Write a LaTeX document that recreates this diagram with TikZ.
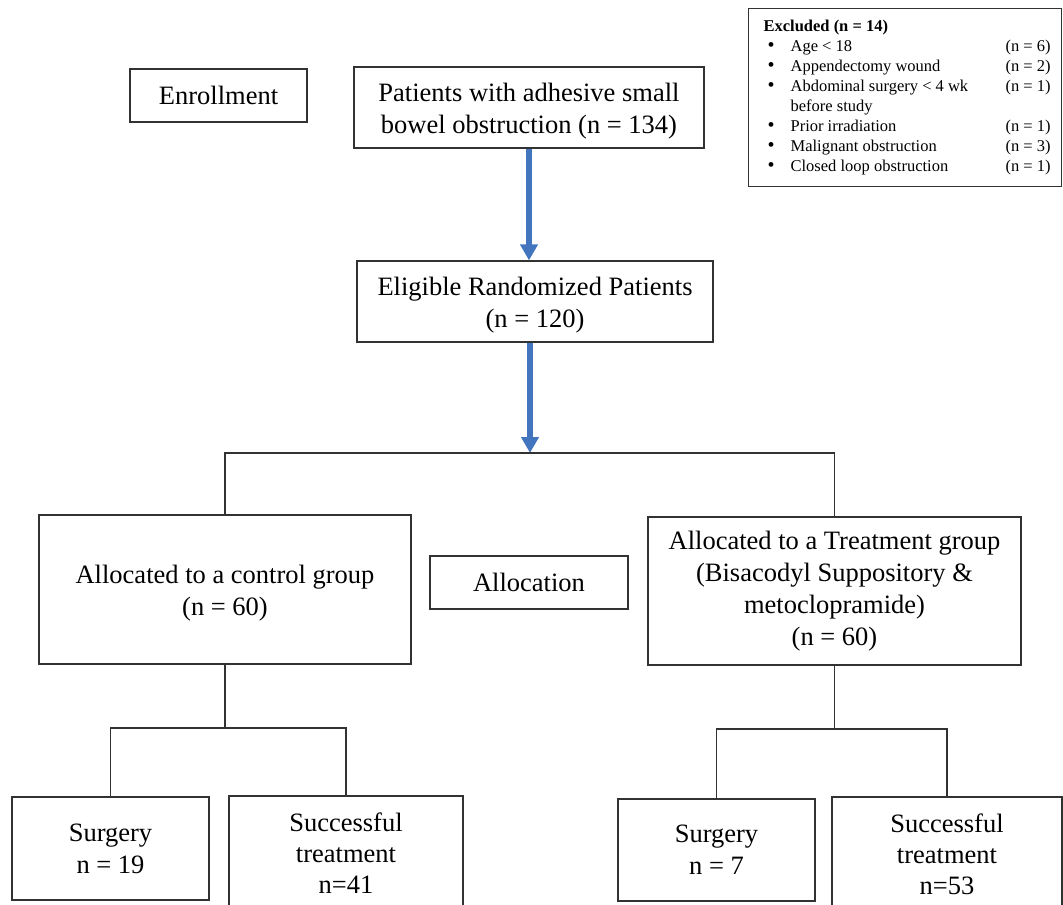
\documentclass[tikz,border=0pt]{standalone}
\usepackage{fontspec}
\setmainfont{Liberation Serif}
\usetikzlibrary{arrows.meta,positioning}
\definecolor{flowblue}{RGB}{66,117,190}
\definecolor{linegray}{RGB}{50,50,50}
\newcommand{\exbullet}{\hspace*{8pt}{\fontsize{20}{20}\selectfont\textbullet}}
\tikzset{
  box/.style={draw=linegray, line width=1.2pt, inner sep=0pt, align=center,
    font=\fontsize{26.5}{32}\selectfont},
  twoline/.style={text height=58pt},
  link/.style={draw=linegray, line width=1.2pt},
  bluearrow/.style={draw=flowblue, line width=5.5pt,
    -{Triangle[width=17pt,length=16pt,fill=flowblue]}}
}

\begin{document}
\begin{tikzpicture}[x=1pt, y=-1pt]
\useasboundingbox (0,0) rectangle (1063,905);

% top row
\node[box, minimum width=177, minimum height=53] (enroll) at (218.5,95.5) {Enrollment};
\node[box, twoline, minimum width=350, minimum height=81] (pat) at (529,107.5)
  {Patients with adhesive small\\bowel obstruction (n = 134)};
\node[draw=linegray, line width=1.2pt, anchor=north west, inner xsep=11pt, inner ysep=9pt,
  font=\fontsize{16.5}{20}\selectfont] (excl) at (748,8)
  {\begin{tabular}{@{}p{31pt}@{}p{215pt}@{}r@{}}
   \multicolumn{3}{@{\hspace*{4pt}}l@{}}{\textbf{Excluded (n = 14)}}\\
   \exbullet & Age < 18 & (n = 6)\\
   \exbullet & Appendectomy wound & (n = 2)\\
   \exbullet & Abdominal surgery < 4 wk & (n = 1)\\
   & before study & \\
   \exbullet & Prior irradiation & (n = 1)\\
   \exbullet & Malignant obstruction & (n = 3)\\
   \exbullet & Closed loop obstruction & (n = 1)
   \end{tabular}};

\node[box, twoline, minimum width=356, minimum height=81] (elig) at (535,301.5)
  {Eligible Randomized Patients\\(n = 120)};

% allocation row
\node[box, twoline, minimum width=372, minimum height=149] (ctrl) at (225,589.5)
  {Allocated to a control group\\(n = 60)};
\node[box, minimum width=198, minimum height=53] (alloc) at (529,582.5) {Allocation};
\node[box, minimum width=373, minimum height=148] (treat) at (834.5,591)
  {Allocated to a Treatment group\\(Bisacodyl Suppository \&\\metoclopramide)\\(n = 60)};

% outcomes
\node[box, minimum width=197, minimum height=103] (surgL) at (110.5,848.5) {Surgery\\n = 19};
\node[box, minimum width=234, minimum height=114, font=\fontsize{26.5}{31}\selectfont] (succL) at (346,853) {Successful\\treatment\\n=41};
\node[box, minimum width=197, minimum height=102] (surgR) at (716.5,850) {Surgery\\n = 7};
\node[box, minimum width=230, minimum height=114, font=\fontsize{26.5}{31}\selectfont] (succR) at (947,854) {Successful\\treatment\\n=53};

\coordinate (split) at (530,453);
\coordinate (ctrlsplit) at (225,728);
\coordinate (treatsplit) at (834.5,729);

% connectors
\draw[bluearrow] (pat.south) -- (pat.south |- elig.north);
\draw[bluearrow] (elig.south -| split) -- (split);
\draw[link] (ctrl.north) |- (split) -| (treat.north);
\draw[link] (ctrl.south) -- (ctrlsplit);
\draw[link] (surgL.north) |- (ctrlsplit) -| (succL.north);
\draw[link] (treat.south) -- (treatsplit);
\draw[link] (surgR.north) |- (treatsplit) -| (succR.north);
\end{tikzpicture}
\end{document}
